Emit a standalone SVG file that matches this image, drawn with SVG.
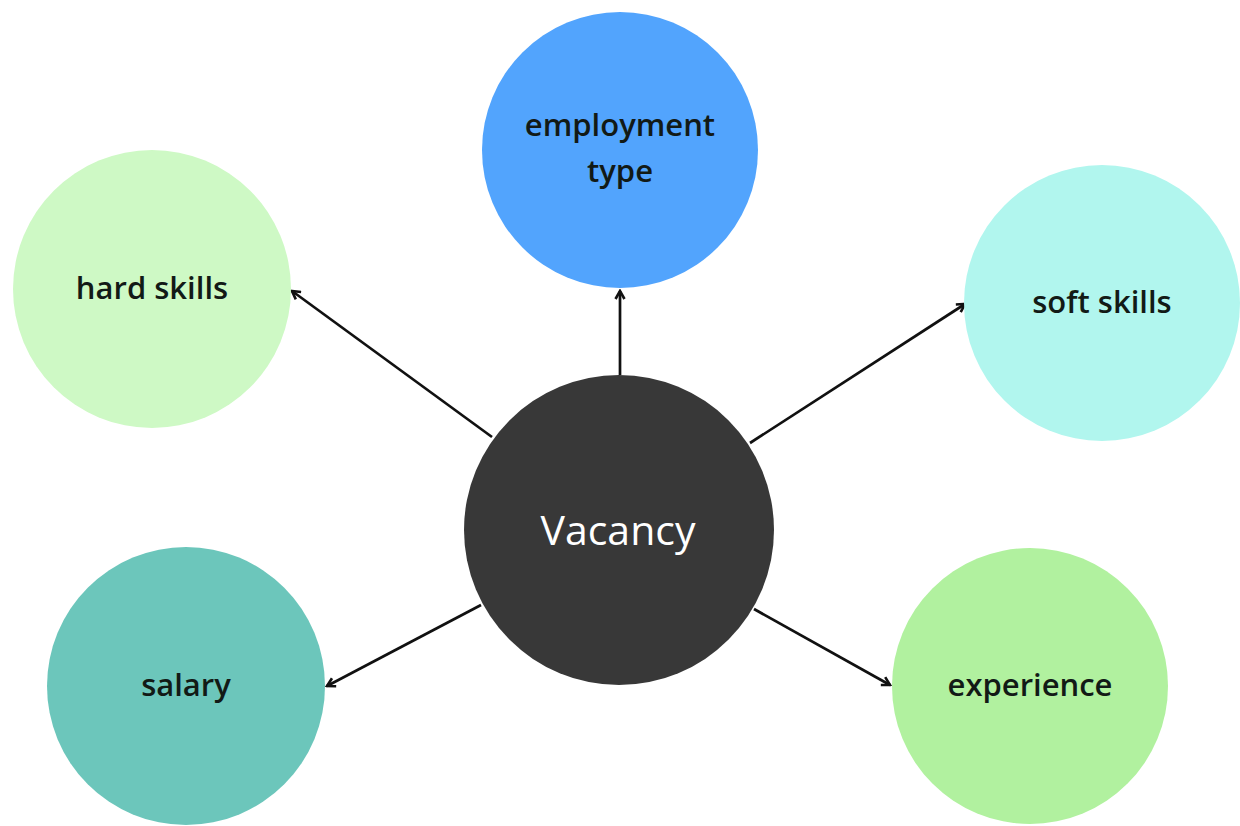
<svg xmlns="http://www.w3.org/2000/svg" width="1240" height="826" viewBox="0 0 1240 826">
<defs>
<style>
.lbl{font-family:"Open Sans",Lato,"Liberation Sans",sans-serif;font-weight:600;font-size:31px;fill:#121a16;text-anchor:middle}
.main{font-family:"Open Sans",Lato,"Liberation Sans",sans-serif;font-weight:400;font-size:41px;fill:#ffffff;text-anchor:middle}
.conn{stroke:#111;stroke-width:2.7;fill:none;marker-end:url(#arr)}
</style>
<marker id="arr" viewBox="0 0 12 12" refX="10" refY="6" markerWidth="12" markerHeight="12" markerUnits="userSpaceOnUse" orient="auto">
<path d="M2,1.5 L10,6 L2,10.5" fill="none" stroke="#111" stroke-width="2.6" stroke-linejoin="miter"/>
</marker>
</defs>
<rect width="1240" height="826" fill="#ffffff"/>
<g id="connectors">
<line class="conn" x1="620" y1="375" x2="620" y2="291"/>
<line class="conn" x1="492" y1="437" x2="292" y2="291"/>
<line class="conn" x1="750" y1="443" x2="965" y2="304"/>
<line class="conn" x1="481" y1="605" x2="327" y2="686"/>
<line class="conn" x1="754" y1="609" x2="890" y2="685"/>
</g>
<g id="node-employment">
<circle cx="620" cy="150" r="138" fill="#52a4fd"/>
<text class="lbl" x="620" y="136">employment</text>
<text class="lbl" x="620" y="182">type</text>
</g>
<g id="node-hard-skills">
<circle cx="152" cy="289" r="139" fill="#cef9c5"/>
<text class="lbl" x="152" y="299">hard skills</text>
</g>
<g id="node-soft-skills">
<circle cx="1102" cy="303" r="138" fill="#b1f6ee"/>
<text class="lbl" x="1102" y="313">soft skills</text>
</g>
<g id="node-salary">
<circle cx="186" cy="686" r="139" fill="#6cc6bb"/>
<text class="lbl" x="186" y="696">salary</text>
</g>
<g id="node-experience">
<circle cx="1030" cy="686" r="138" fill="#b1f19f"/>
<text class="lbl" x="1030" y="696">experience</text>
</g>
<g id="node-vacancy">
<circle cx="619" cy="530" r="155" fill="#383838"/>
<text class="main" x="618" y="545">Vacancy</text>
</g>
</svg>
